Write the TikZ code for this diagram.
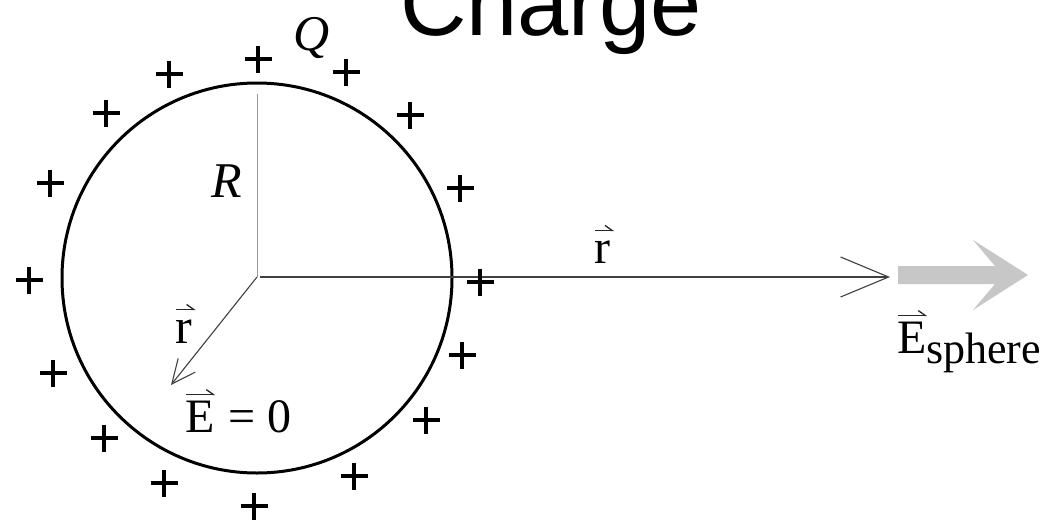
\documentclass[tikz,border=0pt]{standalone}
\usepackage[no-math]{fontspec}
\newfontfamily\titlefont{Liberation Sans}
\newfontfamily\labfont{Liberation Serif}
\usetikzlibrary{arrows.meta}
\begin{document}
\begin{tikzpicture}[x=1pt,y=-1pt,
  lab/.style={inner sep=0pt, outer sep=0pt, anchor=base west,
    font=\labfont\fontsize{48}{48}\selectfont},
  biglab/.style={lab, font=\labfont\fontsize{50}{50}\selectfont},
  sublab/.style={lab, font=\labfont\fontsize{44}{44}\selectfont},
  radius line/.style={draw=black!40, line width=1pt},
  vec line/.style={draw=black!75, line width=1.1pt},
  accent/.style={draw=black!85, line width=1.3pt,
    -{Straight Barb[harpoon, length=7pt, width=10pt, line width=1.3pt]}},
  plussign/.pic={\draw[line width=4.3pt] (-13.5,0) -- (13.5,0) (0,-13.5) -- (0,13.5);}
]
\useasboundingbox (0,0) rectangle (1049,522);
\clip (0,0) rectangle (1049,522);
\fill[white] (0,0) rectangle (1049,522);

% title (clipped at top)
\node[inner sep=0pt, anchor=base west, font=\titlefont\fontsize{92}{92}\selectfont] (title) at (400,35) {Charge};

% sphere
\coordinate (O) at (257,277);
\node[circle, draw, line width=3pt, minimum size=390pt, inner sep=0pt, outer sep=0pt] (sphere) at (257,278) {};

% radius R
\coordinate (Rtop) at (257,94);
\draw[radius line] (O) -- (Rtop);

% outside r vector
\coordinate (Ostart) at (260,277);
\coordinate (rtip) at (890,277);
\draw[vec line, -{Straight Barb[length=48pt,width=40pt,line width=1.1pt]}] (Ostart) -- (rtip);

% inside r vector
\coordinate (intip) at (171,385);
\draw[vec line, -{Straight Barb[length=24pt,width=22pt,line width=1.1pt]}] (O) -- (intip);

% grey field arrow
\coordinate (Ebase) at (898,275);
\coordinate (Etip) at (1028,275);
\fill[black!22] (898,266) -- (995,266) -- (973,240) -- (Etip) -- (973,310) -- (995,284) -- (898,284) -- cycle;

% plus signs
\foreach \px/\py in {258/59, 169/74, 106/113, 50/183, 346/72, 410/115, 460/188,
  29/280, 53/373, 104/438, 164/483, 254/506, 354/476, 426/420, 462/355, 480/282}
  \pic at (\px,\py) {plussign};

% labels
\node[biglab] (Qlab) at (293,50) {\itshape Q};
\node[biglab] (Rlab) at (211,197) {\itshape R};

\node[lab] (rout) at (594,263) {r};
\draw[accent] ([xshift=1pt,yshift=10pt]rout.north west) -- ([xshift=4pt,yshift=10pt]rout.north east);

\node[biglab] (rin) at (175,343) {r};
\draw[accent] ([xshift=1pt,yshift=10pt]rin.north west) -- ([xshift=4pt,yshift=10pt]rin.north east);

\node[lab] (Ein) at (185,432) {E};
\node[lab] (eqzero) at ([xshift=14pt]Ein.base east) {= 0};
\draw[accent] ([xshift=1pt,yshift=6pt]Ein.north west) -- ([xshift=1pt,yshift=6pt]Ein.north east);

\node[lab] (Esph) at (897,353) {E};
\node[sublab] (sph) at ([yshift=-10pt]Esph.base east) {sphere};
\draw[accent] ([xshift=1pt,yshift=6pt]Esph.north west) -- ([xshift=1pt,yshift=6pt]Esph.north east);
\end{tikzpicture}
\end{document}
